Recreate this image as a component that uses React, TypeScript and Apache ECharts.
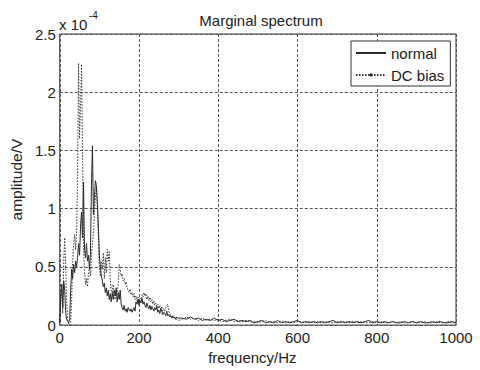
import React, { useEffect, useRef } from "react";
import * as echarts from "echarts";

// Amplitudes are in units of 1e-4 V (axis shows "x 10^-4").
// Low band: 0 – 300 Hz sampled every 2.5 Hz
const lowBandHz: number[] = Array.from({ length: 121 }, (_, i) => i * 2.5);
// High band: 310 – 1000 Hz sampled every 10 Hz
const highBandHz: number[] = Array.from({ length: 70 }, (_, i) => 310 + i * 10);

const normalLow: number[] = [
  0.02, 0.25, 0.35, 0.15, 0.38, 0.30, 0.10, 0.05, 0.03, 0.02,
  0.05, 0.30, 0.48, 0.40, 0.52, 0.45, 0.55, 0.50, 0.58, 0.70,
  0.60, 0.85, 0.97, 0.75, 1.23, 0.65, 0.58, 0.70, 0.55, 0.60,
  0.48, 0.62, 1.20, 1.54, 0.95, 1.10, 1.24, 1.20, 1.05, 0.85,
  0.60, 0.50, 0.42, 0.38, 0.33, 0.36, 0.28, 0.32, 0.25, 0.30,
  0.22, 0.27, 0.20, 0.28, 0.22, 0.30, 0.25, 0.32, 0.20, 0.28,
  0.22, 0.30, 0.18, 0.15, 0.13, 0.17, 0.12, 0.14, 0.11, 0.15,
  0.13, 0.12, 0.14, 0.11, 0.13, 0.15, 0.12, 0.20, 0.18, 0.22,
  0.17, 0.21, 0.19, 0.23, 0.18, 0.20, 0.17, 0.15, 0.19, 0.16,
  0.14, 0.17, 0.13, 0.16, 0.14, 0.12, 0.15, 0.13, 0.16, 0.11,
  0.13, 0.10, 0.14, 0.12, 0.09, 0.11, 0.10, 0.08, 0.12, 0.08,
  0.09, 0.07, 0.08, 0.06, 0.08, 0.06, 0.07, 0.05, 0.07, 0.06,
  0.06,
];
const normalHigh: number[] = [
  0.06, 0.05, 0.07, 0.05, 0.06, 0.04, 0.05, 0.04, 0.06, 0.04,
  0.05, 0.03, 0.04, 0.05, 0.03, 0.04, 0.03, 0.04, 0.02, 0.03,
  0.04, 0.02, 0.03, 0.02, 0.04, 0.02, 0.03, 0.02, 0.03, 0.04,
  0.02, 0.03, 0.02, 0.03, 0.02, 0.03, 0.02, 0.03, 0.04, 0.02,
  0.03, 0.02, 0.03, 0.02, 0.03, 0.02, 0.03, 0.04, 0.02, 0.03,
  0.02, 0.03, 0.02, 0.03, 0.02, 0.02, 0.03, 0.02, 0.03, 0.02,
  0.03, 0.02, 0.02, 0.03, 0.02, 0.03, 0.02, 0.02, 0.03, 0.02,
];

const dcBiasLow: number[] = [
  0.02, 0.20, 0.35, 0.10, 0.55, 0.75, 0.50, 0.20, 0.05, 0.01,
  0.00, 0.02, 0.20, 0.55, 0.70, 0.78, 0.65, 0.80, 1.30, 2.25,
  1.60, 1.90, 2.24, 1.50, 0.70, 0.45, 0.35, 0.40, 0.33, 0.45,
  0.50, 0.42, 0.60, 0.70, 0.80, 0.95, 1.10, 1.18, 1.00, 0.75,
  0.50, 0.42, 0.55, 0.48, 0.62, 0.40, 0.58, 0.45, 0.65, 0.55,
  0.63, 0.40, 0.30, 0.28, 0.35, 0.25, 0.22, 0.30, 0.28, 0.35,
  0.52, 0.48, 0.42, 0.44, 0.38, 0.40, 0.35, 0.37, 0.32, 0.30,
  0.28, 0.31, 0.26, 0.28, 0.24, 0.27, 0.22, 0.25, 0.21, 0.24,
  0.20, 0.23, 0.22, 0.26, 0.24, 0.28, 0.25, 0.27, 0.22, 0.25,
  0.21, 0.24, 0.20, 0.22, 0.18, 0.21, 0.17, 0.19, 0.15, 0.18,
  0.14, 0.17, 0.13, 0.16, 0.12, 0.14, 0.12, 0.15, 0.17, 0.18,
  0.12, 0.10, 0.08, 0.07, 0.06, 0.07, 0.05, 0.06, 0.05, 0.04,
  0.04,
];
const dcBiasHigh: number[] = [
  0.05, 0.07, 0.05, 0.06, 0.04, 0.06, 0.04, 0.05, 0.04, 0.05,
  0.03, 0.04, 0.05, 0.03, 0.04, 0.03, 0.04, 0.03, 0.03, 0.02,
  0.03, 0.04, 0.02, 0.03, 0.02, 0.03, 0.02, 0.03, 0.02, 0.03,
  0.03, 0.02, 0.03, 0.02, 0.03, 0.02, 0.03, 0.02, 0.02, 0.03,
  0.02, 0.03, 0.02, 0.03, 0.02, 0.03, 0.02, 0.02, 0.03, 0.02,
  0.03, 0.02, 0.02, 0.03, 0.02, 0.03, 0.02, 0.02, 0.03, 0.02,
  0.02, 0.03, 0.02, 0.02, 0.03, 0.02, 0.02, 0.03, 0.02, 0.02,
];

const xTicks = [0, 200, 400, 600, 800, 1000];
const yTicks = [0, 0.5, 1, 1.5, 2, 2.5];
const seriesNames = ["normal", "DC bias"];

function pairs(hz: number[], vals: number[]): [number, number][] {
  return hz.map((h, i) => [h, vals[i]]);
}

export default function App() {
  const ref = useRef<HTMLDivElement>(null);
  useEffect(() => {
    if (!ref.current) return;
    const chart = echarts.init(ref.current, undefined, { renderer: "svg" });
    const font = "Liberation Sans, Arial, sans-serif";
    const textColor = "#222";
    chart.setOption({
      animation: false,
      backgroundColor: "#fff",
      textStyle: { fontFamily: font, color: textColor },
      title: {
        text: "Marginal spectrum",
        left: 256,
        top: 8,
        textAlign: "center",
        textStyle: { fontFamily: font, fontSize: 15, fontWeight: "normal", color: textColor },
      },
      graphic: [
        {
          type: "text",
          left: 59,
          top: 17,
          style: { text: "x 10", font: `15px ${font}`, fill: textColor },
        },
        {
          type: "text",
          left: 89,
          top: 10,
          style: { text: "-4", font: `10px ${font}`, fill: textColor },
        },
      ],
      legend: {
        data: [
          { name: seriesNames[0], itemStyle: { opacity: 0 } },
          { name: seriesNames[1] },
        ],
        orient: "vertical",
        left: 351,
        top: 41,
        itemWidth: 30,
        itemHeight: 4,
        itemGap: 4,
        padding: [3, 6, 2, 4],
        backgroundColor: "#fff",
        borderColor: "#333",
        borderWidth: 1,
        borderRadius: 0,
        textStyle: { fontFamily: font, fontSize: 15, color: textColor, lineHeight: 18 },
      },
      grid: {
        left: 59,
        top: 34,
        right: 24,
        bottom: 42,
        show: true,
        borderColor: "#333",
        borderWidth: 1,
        backgroundColor: "#fff",
      },
      xAxis: {
        type: "value",
        min: xTicks[0],
        max: xTicks[xTicks.length - 1],
        interval: xTicks[1] - xTicks[0],
        name: "frequency/Hz",
        nameLocation: "middle",
        nameGap: 21,
        nameTextStyle: { fontFamily: font, fontSize: 15, color: textColor, padding: [0, 11, 0, 0] },
        axisLine: { show: false },
        axisTick: { show: false },
        axisLabel: {
          fontFamily: font,
          fontSize: 15,
          color: textColor,
          margin: 5,
          formatter: (v: number) => String(v),
        },
        splitLine: { show: true, lineStyle: { color: "#555", type: [3, 2], width: 1 } },
      },
      yAxis: {
        type: "value",
        min: yTicks[0],
        max: yTicks[yTicks.length - 1],
        interval: yTicks[1] - yTicks[0],
        name: "amplitude/V",
        nameLocation: "middle",
        nameGap: 25,
        nameTextStyle: { fontFamily: font, fontSize: 15.5, color: textColor },
        axisLine: { show: false },
        axisTick: { show: false },
        axisLabel: {
          fontFamily: font,
          fontSize: 15,
          color: textColor,
          margin: 4,
          formatter: (v: number) => String(v),
        },
        splitLine: { show: true, lineStyle: { color: "#555", type: [3, 2], width: 1 } },
      },
      series: [
        {
          name: seriesNames[0],
          type: "line",
          data: pairs(lowBandHz, normalLow).concat(pairs(highBandHz, normalHigh)),
          symbol: "none",
          lineStyle: { color: "#2a2a2a", width: 1, type: "solid" },
          itemStyle: { color: "#222" },
          z: 3,
        },
        {
          name: seriesNames[1],
          type: "line",
          data: pairs(lowBandHz, dcBiasLow).concat(pairs(highBandHz, dcBiasHigh)),
          symbol: "circle",
          showSymbol: false,
          lineStyle: { color: "#333", width: 1, type: [1.5, 1.5] },
          itemStyle: { color: "#222" },
          z: 2,
        },
      ],
    });
    return () => chart.dispose();
  }, []);
  return (
    <div
      ref={ref}
      style={{ position: "absolute", left: 0, top: 0, width: 480, height: 370 }}
    />
  );
}
